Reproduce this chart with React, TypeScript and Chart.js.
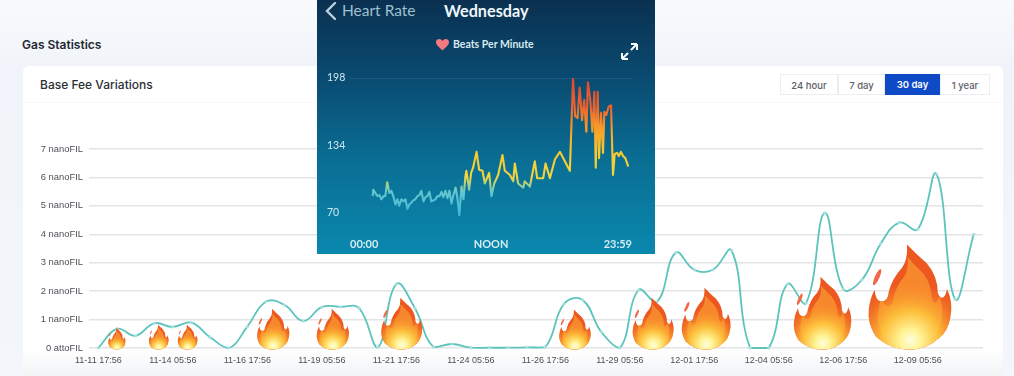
import React, { useEffect, useRef } from "react";
import { Chart, registerables } from "chart.js";

Chart.register(...registerables);

// ---- main chart data ----
const categories = [
  "11-11 17:56", "11-12 08:56", "11-12 23:56", "11-13 14:56", "11-14 05:56", "11-14 20:56", "11-15 11:56", "11-16 02:56",
  "11-16 17:56", "11-17 08:56", "11-17 23:56", "11-18 14:56", "11-19 05:56", "11-19 20:56", "11-20 11:56", "11-21 02:56",
  "11-21 17:56", "11-22 08:56", "11-22 23:56", "11-23 14:56", "11-24 05:56", "11-24 20:56", "11-25 11:56", "11-26 02:56",
  "11-26 17:56", "11-27 08:56", "11-27 23:56", "11-28 14:56", "11-29 05:56", "11-29 20:56", "11-30 11:56", "12-01 02:56",
  "12-01 17:56", "12-02 08:56", "12-02 23:56", "12-03 14:56", "12-04 05:56", "12-04 20:56", "12-05 11:56", "12-06 02:56",
  "12-06 17:56", "12-07 08:56", "12-07 23:56", "12-08 14:56", "12-09 05:56", "12-09 20:56", "12-10 11:56", "12-11 02:56",
];
const baseFee = [
  0, 0.67, 0.43, 0.87, 0.74, 0.89, 0.38, 0, 0.75, 1.63, 1.51, 0.95, 1.44, 1.45, 1.4, 0.02,
  2.25, 1.4, 0.03, 0.14, 0.01, 0.01, 0.01, 0.02, 0.03, 1.55, 1.69, 0.57, 0, 2.04, 1.63, 3.35,
  2.75, 2.75, 3.43, 0, 0, 2.25, 1.58, 4.75, 2.07, 2.4, 3.66, 4.41, 4.18, 6.12, 1.72, 4.0,
];
const flameIndex = [1, 3.25, 4.8, 9.4, 12.6, 16.3, 25.6, 29.8, 32.65, 38.9, 43.6];
const flameSize = [0.77, 0.88, 0.88, 1.44, 1.44, 1.83, 1.41, 1.83, 2.18, 2.57, 3.7];

// ---- inset chart data ----
const hrMinutes = [
  116, 119, 129, 140, 150, 160, 171, 180, 190, 201, 211, 221, 232, 242, 251, 262, 272, 283, 293, 303, 314, 323, 333, 344, 354,
  364, 375, 385, 395, 405, 415, 426, 436, 446, 457, 467, 476, 487, 497, 507, 518, 528, 539, 548, 558, 569, 579, 589, 594, 608,
  618, 628, 646, 659, 676, 688, 710, 722, 736, 756, 778, 790, 816, 833, 841, 858, 884, 892, 918, 943, 955, 986, 998, 1020, 1046,
  1071, 1105, 1122, 1138, 1149, 1161, 1172, 1184, 1195, 1206, 1214, 1226, 1237, 1247, 1254, 1264, 1271, 1281, 1291, 1298, 1308,
  1320, 1332, 1342, 1351, 1363, 1372, 1383, 1393, 1405, 1420,
];
const hrBpm = [
  86, 92, 89, 86, 87, 83, 86, 86, 99, 89, 91, 86, 78, 83, 77, 83, 81, 83, 74, 78, 80, 82, 83, 86, 87,
  91, 81, 85, 86, 90, 81, 82, 83, 86, 86, 90, 85, 91, 84, 91, 79, 87, 94, 84, 68, 95, 83, 105, 110, 92,
  108, 113, 128, 111, 110, 98, 108, 86, 98, 106, 125, 110, 106, 100, 117, 98, 94, 100, 95, 119, 103, 103, 117, 103, 121,
  128, 116, 110, 197, 162, 160, 189, 158, 177, 147, 194, 177, 147, 185, 113, 185, 122, 165, 127, 166, 163,
  171, 172, 106, 126, 127, 124, 128, 124, 122, 114,
];
const hrTicks = [70, 134, 198];
const hrTimeLabels: Record<number, string> = { 0: "00:00", 720: "NOON", 1439: "23:59" };

const LINE = "#5cc4bd";

function flamePath(c: CanvasRenderingContext2D, x: number, y: number, w: number, h: number) {
  const P = (u: number, v: number): [number, number] => [x + u * w, y - v * h];
  const m = (u: number, v: number) => c.moveTo(...P(u, v));
  const q = (a: number, b: number, u: number, v: number) => c.quadraticCurveTo(...P(a, b), ...P(u, v));
  c.beginPath();
  m(-0.04, 1);
  q(0.08, 0.9, 0.2, 0.82);
  q(0.33, 0.7, 0.33, 0.54);
  q(0.36, 0.48, 0.4, 0.5);
  q(0.43, 0.52, 0.44, 0.58);
  q(0.52, 0.45, 0.48, 0.3);
  q(0.45, 0.18, 0.36, 0.12);
  q(0.2, 0, 0, 0);
  q(-0.25, 0, -0.42, 0.13);
  q(-0.52, 0.26, -0.5, 0.38);
  q(-0.49, 0.48, -0.43, 0.57);
  q(-0.42, 0.47, -0.36, 0.46);
  q(-0.27, 0.45, -0.26, 0.55);
  q(-0.22, 0.68, -0.1, 0.78);
  q(-0.03, 0.85, -0.04, 1);
  c.closePath();
}

const flamePlugin = {
  id: "flames",
  afterDatasetsDraw(chart: any) {
    const c: CanvasRenderingContext2D = chart.ctx;
    const { x: sx, y: sy } = chart.scales;
    flameIndex.forEach((idx, i) => {
      const cx = sx.getPixelForValue(idx);
      const base = sy.getPixelForValue(-0.06);
      const h = base - sy.getPixelForValue(flameSize[i] - 0.06);
      const w = h * 0.79;
      c.save();
      // flake
      c.fillStyle = "#ef6a4a";
      c.beginPath();
      c.ellipse(cx - 0.4 * w, base - 0.69 * h, 0.028 * w, 0.085 * h, 0.42, 0, Math.PI * 2);
      c.fill();
      // outer
      flamePath(c, cx, base, w, h);
      c.fillStyle = "#ec5820";
      c.fill();
      c.clip();
      // inner body
      flamePath(c, cx, base - 0.02 * h, w * 0.78, h * 0.86);
      c.fillStyle = "#f7872c";
      c.fill();
      // glow
      const g = c.createRadialGradient(cx, base - 0.09 * h, 0, cx, base - 0.09 * h, 0.56 * h);
      g.addColorStop(0, "rgba(255,253,225,1)");
      g.addColorStop(0.18, "rgba(255,244,150,1)");
      g.addColorStop(0.5, "rgba(253,196,60,0.9)");
      g.addColorStop(1, "rgba(250,140,40,0)");
      c.fillStyle = g;
      c.fillRect(cx - w, base - h, 2 * w, h);
      c.restore();
    });
  },
};

const MainChart = () => {
  const ref = useRef<HTMLCanvasElement>(null);
  useEffect(() => {
    const chart = new Chart(ref.current!, {
      type: "line",
      data: {
        labels: categories,
        datasets: [
          {
            data: baseFee,
            borderColor: LINE,
            borderWidth: 1.8,
            tension: 0.42,
            pointRadius: 1.6,
            pointBackgroundColor: "#a9e0dc",
            pointBorderColor: "#a9e0dc",
            pointBorderWidth: 0,
            clip: false,
          } as any,
        ],
      },
      options: {
        animation: false,
        responsive: false,
        layout: { padding: { top: 149, right: 31, left: 0, bottom: 0 } },
        plugins: { legend: { display: false }, tooltip: { enabled: false } },
        scales: {
          x: {
            type: "category",
            offset: true,
            grid: { display: false },
            border: { display: false },
            afterFit: (s: any) => {
              s.height = 28;
            },
            ticks: {
              autoSkip: false,
              maxRotation: 0,
              padding: -1,
              color: "#4c5056",
              font: { family: "Liberation Sans", size: 9 },
              callback: (_: any, i: number) => (i % 4 === 0 ? categories[i] : ""),
            },
          },
          y: {
            min: 0,
            max: 7,
            grid: { color: "#e3e4e6", lineWidth: 1.4, tickLength: 0 },
            border: { display: false },
            afterFit: (s: any) => {
              s.width = 89;
            },
            ticks: {
              stepSize: 1,
              padding: 6,
              color: "#4c5056",
              font: { family: "Liberation Sans", size: 9.4 },
              callback: (v: any) => (v === 0 ? "0 attoFIL" : `${v} nanoFIL`),
            },
          },
        },
      },
      plugins: [flamePlugin],
    } as any);
    return () => chart.destroy();
  }, []);
  return <canvas ref={ref} width={1014} height={376} style={{ position: "absolute", left: 0, top: 0 }} />;
};

const InsetChart = () => {
  const ref = useRef<HTMLCanvasElement>(null);
  useEffect(() => {
    const chart = new Chart(ref.current!, {
      type: "line",
      data: {
        datasets: [
          {
            data: hrMinutes.map((m, i) => ({ x: m, y: hrBpm[i] })),
            borderWidth: 2.1,
            tension: 0,
            pointRadius: 0,
            clip: false,
            borderJoinStyle: "round",
            borderColor: (ctx: any) => {
              const { chart: ch } = ctx;
              if (!ch.chartArea) return "#ffd23c";
              const y = ch.scales.y;
              const y0 = y.getPixelForValue(70);
              const y1 = y.getPixelForValue(198);
              const g = ch.ctx.createLinearGradient(0, y0, 0, y1);
              const stop = (b: number, col: string) => g.addColorStop((b - 70) / 128, col);
              stop(70, "#46b7d6");
              stop(90, "#62c6cf");
              stop(104, "#f0d640");
              stop(130, "#f8c72f");
              stop(150, "#f89c2a");
              stop(172, "#ef5f2c");
              stop(198, "#e4482c");
              return g;
            },
          } as any,
        ],
      },
      options: {
        animation: false,
        responsive: false,
        layout: { padding: { top: 78, left: 10, right: 23, bottom: 0 } },
        plugins: { legend: { display: false }, tooltip: { enabled: false } },
        scales: {
          x: {
            type: "linear",
            min: 0,
            max: 1439,
            grid: { display: false },
            border: { display: false },
            afterBuildTicks: (s: any) => {
              s.ticks = Object.keys(hrTimeLabels).map((k) => ({ value: Number(k) }));
            },
            afterFit: (s: any) => {
              s.height = 41;
            },
            ticks: {
              align: "inner",
              maxRotation: 0,
              autoSkip: false,
              padding: 17,
              color: "#d4ecf3",
              font: { family: "Lato", size: 11, weight: "bold" },
              callback: (v: any) => hrTimeLabels[v] ?? "",
            },
          },
          y: {
            min: 70,
            max: 198,
            afterBuildTicks: (s: any) => {
              s.ticks = hrTicks.map((v) => ({ value: v }));
            },
            afterFit: (s: any) => {
              s.width = 23;
            },
            grid: {
              tickLength: 0,
              lineWidth: 1,
              color: (c: any) => (c.tick && c.tick.value === 198 ? "rgba(150,210,230,0.12)" : "rgba(0,0,0,0)"),
            },
            border: { display: false },
            ticks: {
              crossAlign: "far",
              padding: 0,
              color: "#cfe9f1",
              font: { family: "Lato", size: 10.5 },
            },
          },
        },
      },
    } as any);
    return () => chart.destroy();
  }, []);
  return <canvas ref={ref} width={338} height={254} style={{ position: "absolute", left: 0, top: 0 }} />;
};

const abs = (o: React.CSSProperties): React.CSSProperties => ({ position: "absolute", whiteSpace: "nowrap", ...o });

const buttons = [
  { t: "24 hour", l: 780, w: 58 },
  { t: "7 day", l: 838, w: 47 },
  { t: "30 day", l: 885, w: 55, on: true },
  { t: "1 year", l: 940, w: 50 },
];

export default function App() {
  useEffect(() => {
    document.body.style.margin = "0";
  }, []);
  return (
    <div
      style={{
        position: "fixed",
        left: 0,
        top: 0,
        width: 1014,
        height: 376,
        overflow: "hidden",
        background: "linear-gradient(180deg,#f9fafc 0%,#f0f4fa 18%,#f3f6fa 100%)",
        fontFamily: "Inter",
        filter: "blur(0.6px)",
      }}
    >
      <div style={abs({ left: 22, top: 37, fontSize: 12, fontWeight: 600, color: "#1f2933" })}>Gas Statistics</div>
      <div
        style={abs({
          left: 23,
          top: 66,
          width: 980,
          height: 320,
          borderRadius: 6,
          background: "linear-gradient(180deg,#fff 0,#fff 284px,#f2f3f5 310px)",
        })}
      />
      <div style={abs({ left: 23, top: 102, width: 980, height: 1, background: "#f9f9fa" })} />
      <div style={abs({ left: 40, top: 77, fontSize: 12, fontWeight: 500, color: "#2b2f36" })}>Base Fee Variations</div>
      {buttons.map((b) => (
        <div
          key={b.t}
          style={abs({
            left: b.l,
            top: 74,
            width: b.w,
            height: 21,
            lineHeight: "21px",
            textAlign: "center",
            fontSize: 9.5,
            fontWeight: b.on ? 600 : 500,
            color: b.on ? "#fff" : "#5c6068",
            background: b.on ? "#0f4ac6" : "#fff",
            boxSizing: "border-box",
            border: b.on ? "none" : "1px solid #eceef1",
          })}
        >
          {b.t}
        </div>
      ))}
      <MainChart />
      <div
        style={abs({
          left: 317,
          top: 0,
          width: 338,
          height: 254,
          background: "linear-gradient(180deg,#0a3050 0%,#0a4a70 30%,#0a6d93 62%,#0a88ae 100%)",
          overflow: "hidden",
          fontFamily: "Lato",
        })}
      >
        <svg style={{ position: "absolute", left: 7, top: 1 }} width="14" height="20" viewBox="0 0 14 20">
          <path d="M11 2 L3 10 L11 18" fill="none" stroke="#b9d3de" strokeWidth="2.4" strokeLinecap="round" />
        </svg>
        <div style={abs({ left: 25, top: 1, fontSize: 15.5, color: "#9fc0cf" })}>Heart Rate</div>
        <div style={abs({ left: 127, top: 1, fontSize: 16.2, fontWeight: 700, color: "#eef6f9" })}>Wednesday</div>
        <svg style={{ position: "absolute", left: 119, top: 39 }} width="13" height="12" viewBox="0 0 24 22">
          <path d="M12 21 C4 14 0 10 0 6 C0 2 3 0 6 0 C9 0 11 2 12 4 C13 2 15 0 18 0 C21 0 24 2 24 6 C24 10 20 14 12 21Z" fill="#f47a80" />
        </svg>
        <div style={abs({ left: 136, top: 38, fontSize: 10.5, fontWeight: 700, color: "#d7e9f0" })}>Beats Per Minute</div>
        <svg style={{ position: "absolute", left: 304, top: 43 }} width="17" height="17" viewBox="0 0 17 17">
          <path d="M1 16 L16 1 M1 16 V10 M1 16 H7 M16 1 V7 M16 1 H10" fill="none" stroke="#fff" strokeWidth="1.9" />
          <path d="M7 10 L10 7" stroke="#0a4a70" strokeWidth="3" />
        </svg>
        <InsetChart />
      </div>
    </div>
  );
}
